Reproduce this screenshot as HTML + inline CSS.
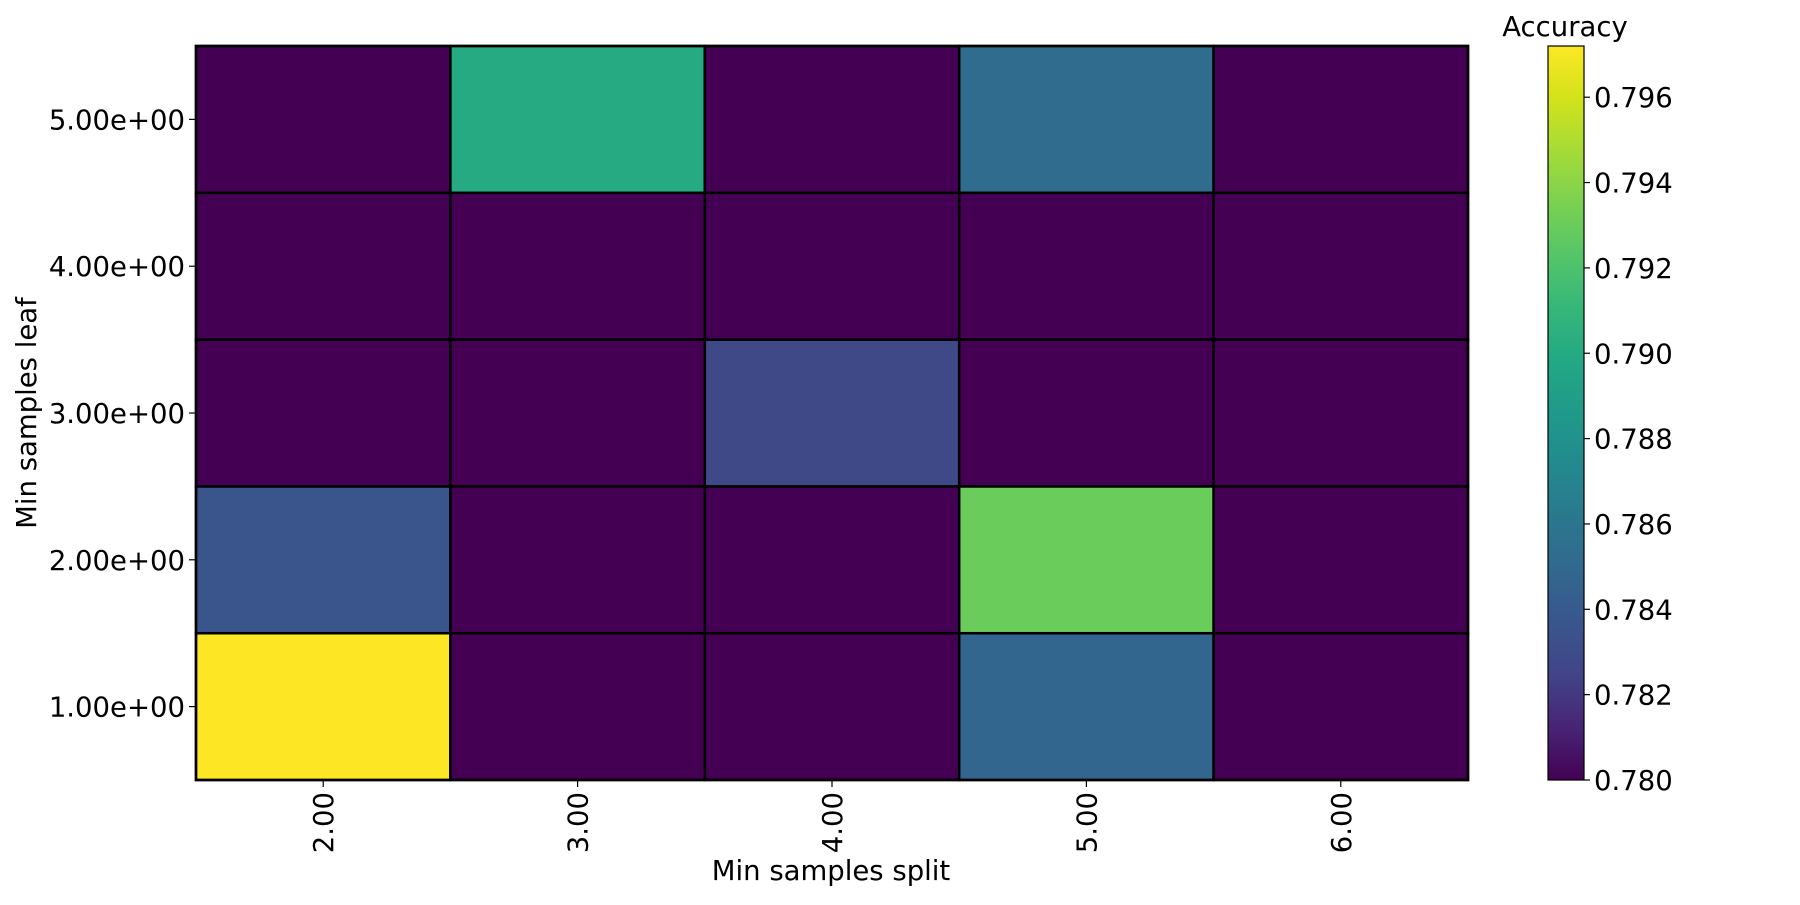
<!DOCTYPE html>
<html><head><meta charset="utf-8"><style>
body{margin:0;background:#fff;width:1800px;height:900px;overflow:hidden}
svg text{font-family:"DejaVu Sans","Liberation Sans",sans-serif;fill:#000}
</style></head><body>
<svg id="chart" width="1800" height="900" xmlns="http://www.w3.org/2000/svg">
<defs><linearGradient id="cbgrad" x1="0" y1="1" x2="0" y2="0"></linearGradient></defs>
<g id="cells"></g>
<g id="axes"></g>
<text x="831" y="880" font-size="27.5" text-anchor="middle">Min samples split</text>
<text transform="translate(36,413) rotate(-90)" font-size="27.5" text-anchor="middle">Min samples leaf</text>
<text x="1565" y="36" font-size="27.5" text-anchor="middle">Accuracy</text>
<g id="cbar"></g>
</svg>
<script>
const xCategories = ["2.00","3.00","4.00","5.00","6.00"];
const yCategories = ["1.00e+00","2.00e+00","3.00e+00","4.00e+00","5.00e+00"];
// rows indexed by yCategories (bottom to top), columns by xCategories
const row1 = [0.7972,0.7800,0.7800,0.7848,0.7800];
const row2 = [0.7836,0.7800,0.7800,0.7930,0.7800];
const row3 = [0.7800,0.7800,0.7828,0.7800,0.7800];
const row4 = [0.7800,0.7800,0.7800,0.7800,0.7800];
const row5 = [0.7800,0.7900,0.7800,0.7852,0.7800];
const values = [row1,row2,row3,row4,row5];
const cbTicks = [0.780,0.782,0.784,0.786,0.788,0.790,0.792,0.794,0.796];
const vmin = 0.780, vmax = 0.7972;

const NS="http://www.w3.org/2000/svg";
const PL=196,PR=1468,PT=46,PB=780;
const cw=(PR-PL)/xCategories.length, ch=(PB-PT)/yCategories.length;
const xPos=i=>PL+i*cw, yPos=j=>PB-(j+1)*ch;
const vir=[[68,1,84],[72,36,117],[65,68,135],[57,86,140],[49,104,142],[42,120,142],[35,137,142],[31,154,138],[34,168,132],[53,183,121],[84,197,104],[122,209,81],[165,219,54],[210,226,27],[253,231,37]];
function viridis(t){t=Math.max(0,Math.min(1,t));const f=t*(vir.length-1),i=Math.min(Math.floor(f),vir.length-2),r=f-i;
 const c=vir[i].map((v,k)=>Math.round(v+(vir[i+1][k]-v)*r));return `rgb(${c[0]},${c[1]},${c[2]})`;}
function mk(tag,attrs,parent){const e=document.createElementNS(NS,tag);for(const k in attrs)e.setAttribute(k,attrs[k]);parent.appendChild(e);return e;}
const cells=document.getElementById('cells'),axes=document.getElementById('axes'),cbar=document.getElementById('cbar');
values.forEach((row,j)=>row.forEach((v,i)=>{
 const r=mk('rect',{x:xPos(i),y:yPos(j),width:cw,height:ch,fill:viridis((v-vmin)/(vmax-vmin)),stroke:'#000','stroke-width':2.5},cells);
 
 
}));
mk('rect',{x:PL,y:PT,width:PR-PL,height:PB-PT,fill:'none',stroke:'#000','stroke-width':2.5},axes);
xCategories.forEach((c,i)=>{const cx=xPos(i)+cw/2;
 mk('line',{x1:cx,y1:PB,x2:cx,y2:PB+7,stroke:'#000','stroke-width':1.2},axes);
 const t=mk('text',{transform:`translate(${cx+10},${PB+12}) rotate(-90)`,'font-size':27.5,'text-anchor':'end'},axes);t.textContent=c;
 
 
});
yCategories.forEach((c,j)=>{const cy=yPos(j)+ch/2;
 mk('line',{x1:PL-7,y1:cy,x2:PL,y2:cy,stroke:'#000','stroke-width':1.2},axes);
 const t=mk('text',{x:PL-11,y:cy+10,'font-size':27.5,'text-anchor':'end'},axes);t.textContent=c;
 
 
});
// colorbar
const CL=1548,CR=1584,CT=46,CB=780;
const g=document.getElementById('cbgrad');
for(let k=0;k<=28;k++){mk('stop',{offset:k/28,'stop-color':viridis(k/28)},g);}
mk('rect',{x:CL,y:CT,width:CR-CL,height:CB-CT,fill:'url(#cbgrad)',stroke:'#000','stroke-width':1.2},cbar);
const cy=v=>CB-(v-vmin)/(vmax-vmin)*(CB-CT);
cbTicks.forEach(v=>{const y=cy(v);
 mk('line',{x1:CR,y1:y,x2:CR+6,y2:y,stroke:'#000','stroke-width':1.2},cbar);
 const t=mk('text',{x:CR+10,y:y+10,'font-size':27.5},cbar);t.textContent=v.toFixed(3);
 
 
});
</script>
</body></html>
